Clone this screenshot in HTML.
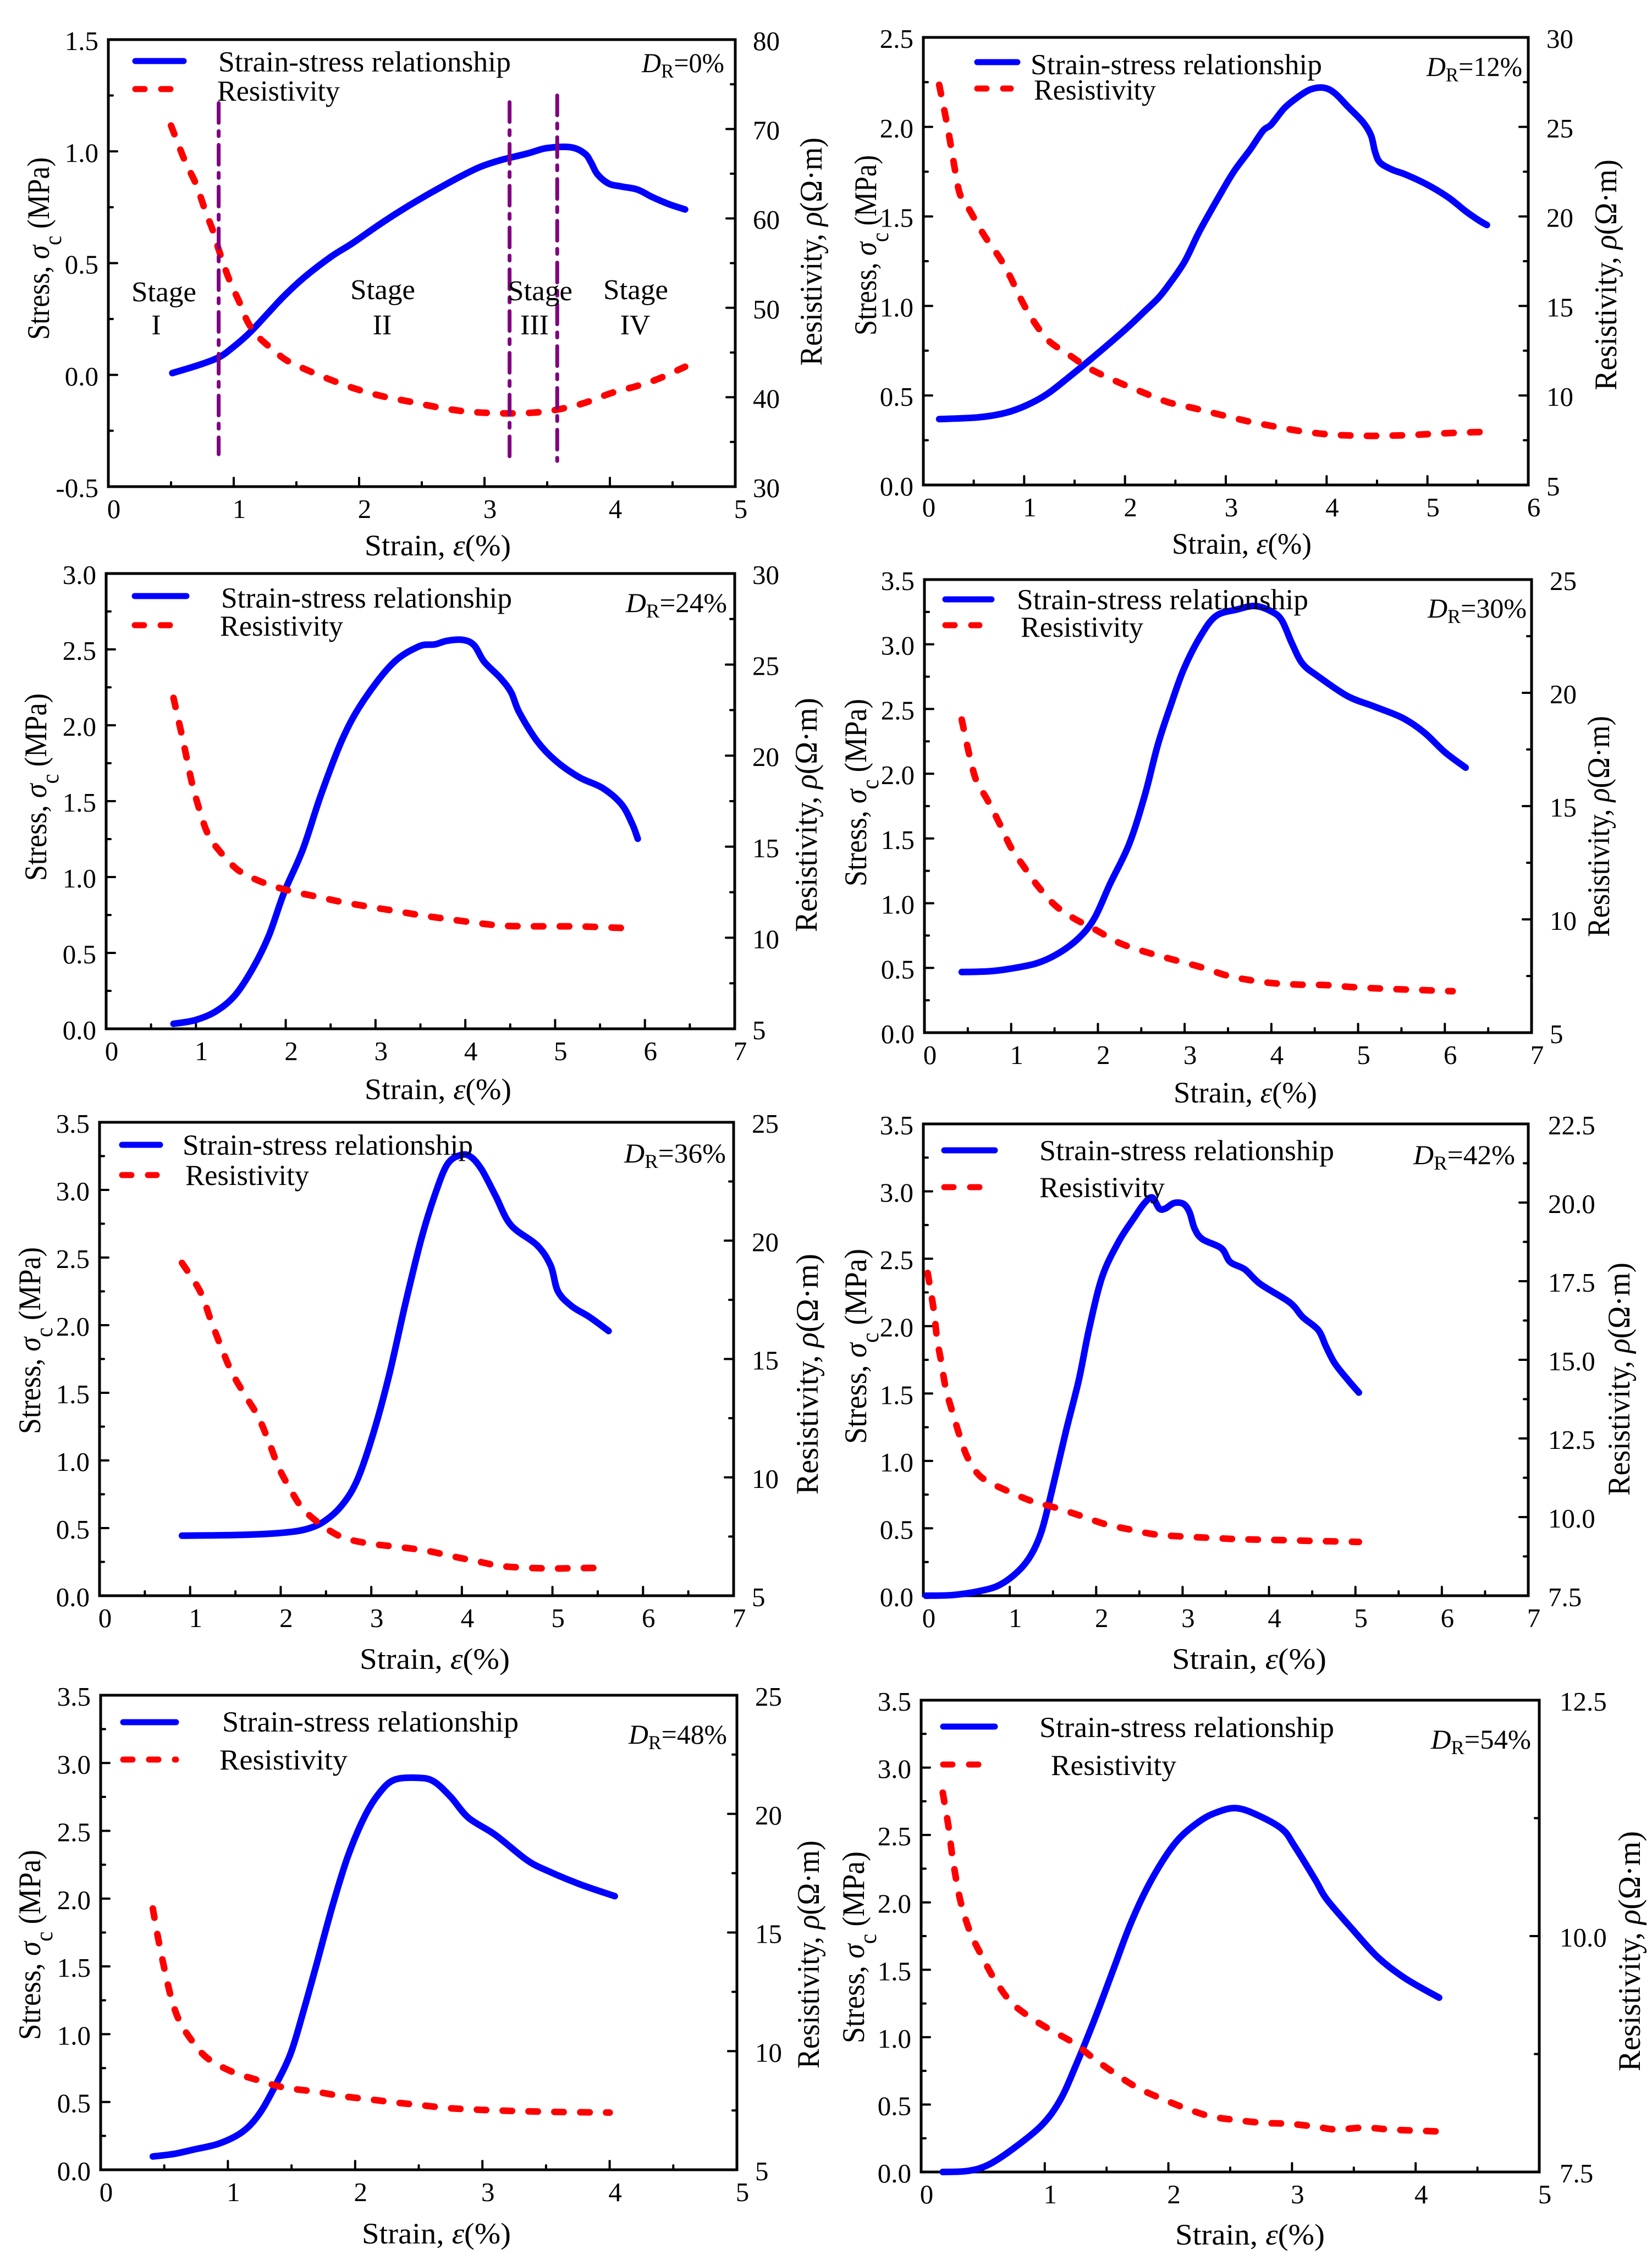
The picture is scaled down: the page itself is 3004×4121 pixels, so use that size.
<!DOCTYPE html>
<html lang="en">
<head>
<meta charset="utf-8">
<title>Strain, stress and resistivity curves</title>
<style>
html,body{margin:0;padding:0;background:#fff;}
svg{display:block;}
text{font-family:"Liberation Serif","DejaVu Serif",serif;fill:#000;}
</style>
</head>
<body>
<svg id="chart" xmlns="http://www.w3.org/2000/svg" width="3004" height="4121" viewBox="0 0 3004 4121"></svg>
<script>
/* ---------- data ---------- */
const p1StressStrain = [.51,.71,.88,1.0,1.13,1.28,1.40,1.57,1.78,1.95,2.16,2.37,2.58,2.79,2.96,3.13,3.34,3.50,3.69,3.80,3.85,3.90,3.99,4.09,4.22,4.34,4.47,4.60];
const p1Stress = [.008,.042,.078,.126,.19,.28,.352,.44,.53,.59,.672,.748,.817,.882,.929,.961,.99,1.015,1.018,.99,.95,.898,.856,.843,.829,.795,.764,.74];
const p1ResStrain = [.50,.605,.70,.77,.836,.88,.96,1.05,1.11,1.19,1.32,1.42,1.57,1.78,1.99,2.20,2.41,2.62,2.83,3.04,3.25,3.46,3.63,3.80,4.01,4.22,4.39,4.60];
const p1Resistivity = [70.39,66.63,63.80,60.98,58.55,56.53,53.30,50.48,48.46,46.84,45.23,44.14,43.13,41.91,40.86,40.06,39.49,38.89,38.44,38.24,38.20,38.36,38.76,39.37,40.46,41.27,42.08,43.41];

const p2StressStrain = [.157,.55,.81,1.02,1.23,1.46,1.70,2.01,2.20,2.33,2.43,2.59,2.74,2.93,3.08,3.24,3.37,3.45,3.58,3.71,3.84,3.97,4.08,4.21,4.36,4.44,4.48,4.53,4.65,4.78,4.99,5.20,5.38,5.51,5.59];
const p2Stress = [.368,.378,.402,.444,.509,.61,.721,.872,.973,1.044,1.115,1.246,1.418,1.609,1.751,1.872,1.979,2.013,2.104,2.165,2.209,2.219,2.189,2.114,2.027,1.953,1.862,1.801,1.761,1.735,1.68,1.609,1.529,1.478,1.452];
const p2ResStrain = [.157,.225,.277,.32,.366,.455,.60,.76,.86,.99,1.12,1.25,1.46,1.65,1.91,2.17,2.43,2.69,2.95,3.21,3.48,3.74,4.05,4.36,4.57,4.84,5.10,5.36,5.59];
const p2Resistivity = [27.35,25.44,23.82,22.41,21.20,20.39,18.97,17.66,16.65,15.14,13.93,13.02,12.21,11.50,10.80,10.19,9.62,9.28,8.92,8.57,8.27,8.01,7.81,7.75,7.75,7.79,7.87,7.93,7.97];

const p3StressStrain = [.75,.99,1.22,1.43,1.63,1.81,1.98,2.19,2.39,2.63,2.86,3.19,3.48,3.66,3.80,3.98,4.10,4.21,4.39,4.51,4.60,4.80,5.01,5.27,5.53,5.74,5.86,5.92];
const p3Stress = [.033,.057,.114,.217,.395,.61,.895,1.181,1.538,1.907,2.157,2.407,2.519,2.533,2.557,2.562,2.526,2.419,2.312,2.217,2.086,1.895,1.764,1.657,1.586,1.479,1.348,1.252];
const p3ResStrain = [.75,.84,.90,.96,1.04,1.13,1.25,1.46,1.69,1.98,2.34,2.63,2.92,3.22,3.51,3.80,4.10,4.39,4.68,5.27,5.83];
const p3Resistivity = [23.17,21.19,19.80,18.41,17.02,15.73,14.84,13.75,13.15,12.66,12.26,11.96,11.71,11.47,11.23,11.03,10.83,10.67,10.63,10.62,10.52];

const p4StressStrain = [.43,.75,.99,1.29,1.54,1.78,1.96,2.14,2.36,2.54,2.69,2.84,2.99,3.18,3.36,3.60,3.81,4.00,4.12,4.24,4.36,4.54,4.88,5.18,5.51,5.76,6.0,6.24];
const p4Stress = [.468,.474,.494,.535,.611,.731,.884,1.149,1.456,1.832,2.222,2.529,2.808,3.059,3.218,3.268,3.296,3.254,3.185,3.003,2.85,2.752,2.599,2.521,2.432,2.32,2.167,2.047];
const p4ResStrain = [.43,.52,.60,.72,.87,1.00,1.17,1.32,1.51,1.72,1.96,2.26,2.57,2.87,3.18,3.48,3.72,4.03,4.33,4.63,4.94,5.30,5.73,6.09];
const p4Resistivity = [18.82,17.22,16.11,15.31,14.20,13.16,12.20,11.41,10.61,10.05,9.57,8.94,8.54,8.22,7.90,7.53,7.34,7.18,7.12,7.10,7.01,6.94,6.88,6.83];

const p5StressStrain = [.91,1.52,1.98,2.27,2.48,2.68,2.85,3.03,3.20,3.38,3.55,3.70,3.84,3.99,4.10,4.22,4.37,4.54,4.83,4.98,5.06,5.21,5.41,5.62];
const p5Stress = [.444,.449,.463,.49,.55,.672,.863,1.217,1.639,2.169,2.632,2.959,3.19,3.258,3.244,3.149,2.959,2.741,2.591,2.441,2.251,2.142,2.06,1.957];
const p5ResStrain = [.91,1.11,1.23,1.34,1.46,1.60,1.75,1.87,1.98,2.10,2.24,2.45,2.68,2.97,3.32,3.61,3.90,4.16,4.42,4.72,5.01,5.30,5.62];
const p5Resistivity = [19.06,17.86,16.62,15.53,14.44,13.51,12.57,11.49,10.40,9.54,8.69,7.99,7.47,7.21,7.05,6.90,6.66,6.46,6.26,6.18,6.15,6.17,6.17];

const p6StressStrain = [.03,.34,.64,.88,1.10,1.25,1.37,1.49,1.65,1.80,1.92,2.07,2.26,2.44,2.56,2.65,2.73,2.80,2.90,3.01,3.08,3.14,3.23,3.45,3.55,3.72,3.90,4.24,4.39,4.57,4.66,4.76,4.91,5.04];
const p6Stress = [0,.005,.033,.079,.183,.306,.483,.784,1.22,1.603,1.985,2.367,2.626,2.804,2.913,2.954,2.872,2.872,2.913,2.907,2.845,2.722,2.645,2.577,2.476,2.421,2.312,2.176,2.067,1.971,1.848,1.725,1.603,1.507];
const p6ResStrain = [.05,.12,.16,.21,.26,.34,.43,.52,.67,.95,1.28,1.49,1.80,2.10,2.38,2.68,3.02,3.32,3.63,4.12,4.54,5.04];
const p6Resistivity = [17.76,16.59,15.65,14.89,14.08,13.31,12.50,11.85,11.27,10.86,10.48,10.33,10.06,9.78,9.61,9.45,9.38,9.34,9.30,9.27,9.24,9.21];

const p7StressStrain = [.41,.575,.74,.93,1.11,1.24,1.36,1.49,1.59,1.69,1.82,1.94,2.07,2.19,2.31,2.50,2.62,2.75,2.89,3.10,3.35,3.51,3.76,4.04];
const p7Stress = [.098,.117,.151,.193,.277,.403,.598,.85,1.157,1.493,1.94,2.304,2.597,2.779,2.877,2.891,2.863,2.751,2.597,2.471,2.284,2.206,2.108,2.018];
const p7ResStrain = [.41,.45,.505,.555,.617,.72,.84,1.03,1.24,1.44,1.69,1.90,2.11,2.31,2.52,2.73,2.93,3.18,3.56,4.00];
const p7Resistivity = [16.01,14.81,13.37,12.25,11.29,10.42,9.70,9.14,8.77,8.47,8.29,8.10,7.97,7.84,7.72,7.60,7.54,7.49,7.44,7.41];

const p8StressStrain = [.175,.38,.55,.76,.98,1.125,1.25,1.40,1.55,1.70,1.87,2.06,2.25,2.40,2.55,2.72,2.92,3.02,3.19,3.28,3.49,3.70,3.92,4.19];
const p8Stress = [0,.008,.056,.183,.351,.534,.787,1.125,1.49,1.855,2.179,2.446,2.60,2.671,2.699,2.648,2.544,2.418,2.165,2.024,1.799,1.588,1.434,1.293];
const p8ResStrain = [.175,.22,.25,.29,.33,.40,.49,.59,.72,.87,1.04,1.23,1.40,1.55,1.74,1.94,2.15,2.34,2.55,2.77,2.98,3.19,3.36,3.58,3.79,3.96,4.17];
const p8Resistivity = [11.52,11.17,10.87,10.55,10.31,10.03,9.79,9.55,9.31,9.15,9.01,8.87,8.70,8.56,8.40,8.28,8.17,8.09,8.05,8.02,8.01,7.98,7.95,7.97,7.95,7.94,7.93];

/* tick values */
const strainTicks5 = [0,1,2,3,4,5];
const strainTicks6 = [0,1,2,3,4,5,6];
const strainTicks7 = [0,1,2,3,4,5,6,7];
const stressTicksP1 = ["-0.5","0.0","0.5","1.0","1.5"];
const stressTicksP2 = ["0.0","0.5","1.0","1.5","2.0","2.5"];
const stressTicksP3 = ["0.0","0.5","1.0","1.5","2.0","2.5","3.0"];
const stressTicks35 = ["0.0","0.5","1.0","1.5","2.0","2.5","3.0","3.5"];
const resTicksP1 = ["30","40","50","60","70","80"];
const resTicks30 = ["5","10","15","20","25","30"];
const resTicks25 = ["5","10","15","20","25"];
const resTicksP6 = ["7.5","10.0","12.5","15.0","17.5","20.0","22.5"];
const resTicksP8 = ["7.5","10.0","12.5"];

/* stage annotations of the first panel */
const stageBoundaries = [0.88, 3.20, 3.58];
const stageBoundaryTops = [1.216, 1.22, 1.25];
const stageBoundaryBottoms = [-0.355, -0.37, -0.385];
const stageNames = ["I","II","III","IV"];

const STRESS_LEGEND = "Strain-stress relationship";
const RES_LEGEND = "Resistivity";

/* ---------- panel layout (pixels) ---------- */
const panels = [
 {id:"dr-0",  dr:"=0%",  box:[197,72,1337,885],    sx:strainTicks5, st:stressTicksP1, rt:resTicksP1, sX:p1StressStrain, sY:p1Stress, rX:p1ResStrain, rY:p1Resistivity,
  leg:{bl:[246,334,111],tb:[397,130,532],rl:[246,311,162],tr:[395,183,223]}, d:[1167,131,150], xl:[663,929,1010], yl:[89,286,618], zl:[1494,250,665], rlab:32},
 {id:"dr-12", dr:"=12%", box:[1679,68,2779,882],   sx:strainTicks6, st:stressTicksP2, rt:resTicks30, sX:p2StressStrain, sY:p2Stress, rX:p2ResStrain, rY:p2Resistivity,
  leg:{bl:[1777,1850,113],tb:[1874,135,530],rl:[1777,1838,161],tr:[1880,181,222]}, d:[2594,138,174], xl:[2131,2385,1007], yl:[1593,282,610], zl:[2939,290,710], rlab:33},
 {id:"dr-24", dr:"=24%", box:[193,1043,1336,1871], sx:strainTicks7, st:stressTicksP3, rt:resTicks30, sX:p3StressStrain, sY:p3Stress, rX:p3ResStrain, rY:p3Resistivity,
  leg:{bl:[245,339,1084],tb:[402,1105,529],rl:[245,339,1137],tr:[400,1156,224]}, d:[1138,1113,184], xl:[663,930,1999], yl:[84,1261,1602], zl:[1485,1269,1695], rlab:32},
 {id:"dr-30", dr:"=30%", box:[1681,1054,2785,1878],sx:strainTicks7, st:stressTicks35, rt:resTicks25, sX:p4StressStrain, sY:p4Stress, rX:p4ResStrain, rY:p4Resistivity,
  leg:{bl:[1719,1803,1090],tb:[1849,1108,530],rl:[1719,1781,1137],tr:[1856,1158,223]}, d:[2596,1123,180], xl:[2134,2395,2005], yl:[1575,1271,1612], zl:[2926,1302,1704], rlab:33},
 {id:"dr-36", dr:"=36%", box:[181,2041,1334,2902], sx:strainTicks7, st:stressTicks35, rt:resTicks25, sX:p5StressStrain, sY:p5Stress, rX:p5ResStrain, rY:p5Resistivity,
  leg:{bl:[222,291,2082],tb:[332,2100,528],rl:[222,285,2137],tr:[337,2155,225]}, d:[1135,2114,185], xl:[654,927,3035], yl:[73,2268,2608], zl:[1487,2280,2718], rlab:33},
 {id:"dr-42", dr:"=42%", box:[1679,2044,2779,2902],sx:strainTicks7, st:stressTicks35, rt:resTicksP6, sX:p6StressStrain, sY:p6Stress, rX:p6ResStrain, rY:p6Resistivity,
  leg:{bl:[1717,1809,2092],tb:[1890,2110,536],rl:[1717,1809,2159],tr:[1890,2177,228]}, d:[2570,2117,185], xl:[2131,2412,3035], yl:[1575,2271,2626], zl:[2963,2296,2720], rlab:36},
 {id:"dr-48", dr:"=48%", box:[183,3083,1340,3946], sx:strainTicks5, st:stressTicks35, rt:resTicks25, sX:p7StressStrain, sY:p7Stress, rX:p7ResStrain, rY:p7Resistivity,
  leg:{bl:[224,320,3132],tb:[404,3149,539],rl:[224,320,3200],tr:[399,3218,233]}, d:[1143,3171,179], xl:[658,929,4080], yl:[73,3364,3710], zl:[1489,3347,3762], rlab:33},
 {id:"dr-54", dr:"=54%", box:[1675,3092,2799,3950],sx:strainTicks5, st:stressTicks35, rt:resTicksP8, sX:p8StressStrain, sY:p8Stress, rX:p8ResStrain, rY:p8Resistivity,
  leg:{bl:[1715,1809,3140],tb:[1890,3159,536],rl:[1715,1809,3209],tr:[1911,3228,228]}, d:[2602,3180,182], xl:[2137,2409,4082], yl:[1571,3367,3716], zl:[2982,3330,3767], rlab:37}
];
const stageLabelSpots = [[298,531,284,591],[696,527,695,591],[982,529,972,591],[1156,527,1155,591]];

/* ---------- drawing helpers ---------- */
const NS = "http://www.w3.org/2000/svg";
const root = document.getElementById("chart");

function make(tag, parent, name) {
  const el = document.createElementNS(NS, tag);
  
  
  parent.appendChild(el);
  return el;
}
function linear(d0, d1, r0, r1) {
  return v => r0 + (v - d0) * (r1 - r0) / (d1 - d0);
}
function line(parent, name, x1, y1, x2, y2, w) {
  const l = make('line', parent, name);
  l.setAttribute('x1', x1); l.setAttribute('y1', y1);
  l.setAttribute('x2', x2); l.setAttribute('y2', y2);
  l.setAttribute('stroke', '#000'); l.setAttribute('stroke-width', w);
  l.setAttribute('stroke-linecap', 'round');
  return l;
}
/* parts: [text, "i" italic | "s" subscript | ""] */
function richText(parent, name, x, y, size, parts, opt) {
  opt = opt || {};
  const t = make('text', parent, name);
  t.setAttribute('x', x); t.setAttribute('y', y);
  t.setAttribute('font-size', size);
  t.setAttribute('xml:space', 'preserve');
  if (opt.anchor) t.setAttribute('text-anchor', opt.anchor);
  if (opt.length && !opt.rotate) {
    t.setAttribute('textLength', opt.length);
    t.setAttribute('lengthAdjust', 'spacingAndGlyphs');
  }
  const drop = opt.drop === undefined ? size * 0.2 : opt.drop;
  const subSize = opt.subSize || size * 0.72;
  let low = 0;
  parts.forEach(p => {
    const s = document.createElementNS(NS, 'tspan');
    s.textContent = p[0];
    if (p[1].indexOf('i') >= 0) s.setAttribute('font-style', 'italic');
    const wantLow = p[1].indexOf('s') >= 0 ? drop : 0;
    if (wantLow !== low) { s.setAttribute('dy', wantLow - low); low = wantLow; }
    if (wantLow) s.setAttribute('font-size', subSize);
    t.appendChild(s);
  });
  if (opt.rotate) {
    /* squeeze along the reading direction only, keeping the glyph height */
    const k = opt.length / t.getComputedTextLength();
    t.setAttribute('transform', 'translate(' + x + ' ' + y + ') rotate(-90) scale(' + k.toFixed(4) + ' 1) translate(' + (-x) + ' ' + (-y) + ')');
  }
  return t;
}
/* smooth curve through the scaled data points */
function curve(parent, name, xs, ys, sx, sy, color, dash) {
  const pts = xs.map((x, i) => [sx(x), sy(ys[i])]);
  let d = 'M' + pts[0][0].toFixed(1) + ' ' + pts[0][1].toFixed(1);
  for (let i = 0; i < pts.length - 1; i++) {
    const p0 = pts[Math.max(i - 1, 0)], p1 = pts[i], p2 = pts[i + 1], p3 = pts[Math.min(i + 2, pts.length - 1)];
    const c1x = p1[0] + (p2[0] - p0[0]) / 6, c1y = p1[1] + (p2[1] - p0[1]) / 6;
    const c2x = p2[0] - (p3[0] - p1[0]) / 6, c2y = p2[1] - (p3[1] - p1[1]) / 6;
    d += ' C' + c1x.toFixed(1) + ' ' + c1y.toFixed(1) + ' ' + c2x.toFixed(1) + ' ' + c2y.toFixed(1) + ' ' + p2[0].toFixed(1) + ' ' + p2[1].toFixed(1);
  }
  const p = make('path', parent, name);
  p.setAttribute('d', d);
  p.setAttribute('fill', 'none');
  p.setAttribute('stroke', color);
  p.setAttribute('stroke-width', 12);
  p.setAttribute('stroke-linejoin', 'round');
  p.setAttribute('stroke-linecap', 'round');
  if (dash) p.setAttribute('stroke-dasharray', dash);
  return p;
}

const RED_DASH = '17 30';
const TICK_MAJOR = 16, TICK_MINOR = 8, AXIS_W = 5, TICK_W = 4, TICK_FONT = 49;

panels.forEach((P, idx) => {
  const g = make('g', root, 'panel-' + P.id);
  const [L, T, R, B] = P.box;
  const xMax = P.sx[P.sx.length - 1];
  const sLo = parseFloat(P.st[0]), sHi = parseFloat(P.st[P.st.length - 1]);
  const rLo = parseFloat(P.rt[0]), rHi = parseFloat(P.rt[P.rt.length - 1]);
  const X = linear(0, xMax, L, R);
  const YS = linear(sLo, sHi, B, T);
  const YR = linear(rLo, rHi, B, T);

  /* frame */
  const frame = make('rect', g, 'plot-frame');
  frame.setAttribute('x', L); frame.setAttribute('y', T);
  frame.setAttribute('width', R - L); frame.setAttribute('height', B - T);
  frame.setAttribute('fill', 'none'); frame.setAttribute('stroke', '#000');
  frame.setAttribute('stroke-width', AXIS_W);

  /* x ticks */
  P.sx.forEach((v, i) => {
    if (i > 0 && i < P.sx.length - 1) line(g, 'x-tick', X(v), B, X(v), B - TICK_MAJOR, TICK_W);
    if (i < P.sx.length - 1) line(g, 'x-minor-tick', X(v + 0.5), B, X(v + 0.5), B - TICK_MINOR, TICK_W);
    richText(g, 'x-tick-label', X(v) + 10, B + 57, TICK_FONT, [[String(v), '']], {anchor: 'middle'});
  });

  /* left ticks */
  P.st.forEach((lab, i) => {
    const v = parseFloat(lab), y = YS(v);
    if (i > 0 && i < P.st.length - 1) line(g, 'stress-tick', L, y, L + TICK_MAJOR, y, TICK_W);
    if (i < P.st.length - 1) {
      const m = YS((v + parseFloat(P.st[i + 1])) / 2);
      line(g, 'stress-minor-tick', L, m, L + TICK_MINOR, m, TICK_W);
    }
    richText(g, 'stress-tick-label', L - 18, y + 19, TICK_FONT, [[lab, '']], {anchor: 'end'});
  });

  /* right ticks */
  P.rt.forEach((lab, i) => {
    const v = parseFloat(lab), y = YR(v);
    if (i > 0 && i < P.rt.length - 1) line(g, 'resistivity-tick', R, y, R - TICK_MAJOR, y, TICK_W);
    if (i < P.rt.length - 1) {
      const m = YR((v + parseFloat(P.rt[i + 1])) / 2);
      line(g, 'resistivity-minor-tick', R, m, R - TICK_MINOR, m, TICK_W);
    }
    richText(g, 'resistivity-tick-label', R + P.rlab, y + 19, TICK_FONT, [[lab, '']]);
  });

  /* series */
  curve(g, 'stress-curve', P.sX, P.sY, X, YS, '#0000ff', null);
  curve(g, 'resistivity-curve', P.rX, P.rY, X, YR, '#ff0000', RED_DASH);

  /* stage separators and labels */
  if (idx === 0) {
    stageBoundaries.forEach((v, i) => {
      const l = make('line', g, 'stage-boundary');
      l.setAttribute('x1', X(v)); l.setAttribute('x2', X(v));
      l.setAttribute('y1', YS(stageBoundaryTops[i])); l.setAttribute('y2', YS(stageBoundaryBottoms[i]));
      l.setAttribute('stroke', '#800080'); l.setAttribute('stroke-width', 7);
      l.setAttribute('stroke-linecap', 'round');
      l.setAttribute('stroke-dasharray', '36 15 9 16');
    });
    stageNames.forEach((n, i) => {
      const s = stageLabelSpots[i];
      richText(g, 'stage-label', s[0], s[1] + 17, 52, [['Stage', '']], {anchor: 'middle', length: 118});
      richText(g, 'stage-label', s[2], s[3] + 17, 52, [[n, '']], {anchor: 'middle'});
    });
  }

  /* legend */
  const lg = make('g', g, 'legend');
  const bl = make('line', lg, 'legend-stress-swatch');
  bl.setAttribute('x1', P.leg.bl[0]); bl.setAttribute('x2', P.leg.bl[1]);
  bl.setAttribute('y1', P.leg.bl[2]); bl.setAttribute('y2', P.leg.bl[2]);
  bl.setAttribute('stroke', '#0000ff'); bl.setAttribute('stroke-width', 11);
  bl.setAttribute('stroke-linecap', 'round');
  const rl = make('line', lg, 'legend-resistivity-swatch');
  rl.setAttribute('x1', P.leg.rl[0]); rl.setAttribute('x2', P.leg.rl[1]);
  rl.setAttribute('y1', P.leg.rl[2]); rl.setAttribute('y2', P.leg.rl[2]);
  rl.setAttribute('stroke', '#ff0000'); rl.setAttribute('stroke-width', 11);
  rl.setAttribute('stroke-linecap', 'round');
  rl.setAttribute('stroke-dasharray', RED_DASH);
  richText(lg, 'legend-stress-label', P.leg.tb[0], P.leg.tb[1], 53, [[STRESS_LEGEND, '']], {length: P.leg.tb[2]});
  richText(lg, 'legend-resistivity-label', P.leg.tr[0], P.leg.tr[1], 53, [[RES_LEGEND, '']], {length: P.leg.tr[2]});

  /* relative density annotation */
  richText(g, 'relative-density-label', P.d[0], P.d[1], 50,
    [['D', 'i'], ['R', 's'], [P.dr, '']], {length: P.d[2]});

  /* axis titles */
  richText(g, 'x-axis-title', (P.xl[0] + P.xl[1]) / 2, P.xl[2], 54,
    [['Strain, ', ''], ['ε', 'i'], ['(%)', '']], {anchor: 'middle', length: P.xl[1] - P.xl[0]});
  richText(g, 'stress-axis-title', P.yl[0], (P.yl[1] + P.yl[2]) / 2, 57,
    [['Stress, ', ''], ['σ', 'i'], ['c', 's'], [' (MPa)', '']],
    {anchor: 'middle', rotate: true, length: P.yl[2] - P.yl[1], drop: 22, subSize: 44});
  richText(g, 'resistivity-axis-title', P.zl[0], (P.zl[1] + P.zl[2]) / 2, 57,
    [['Resistivity, ', ''], ['ρ', 'i'], ['(Ω·m)', '']],
    {anchor: 'middle', rotate: true, length: P.zl[2] - P.zl[1]});
});
</script>
</body>
</html>
